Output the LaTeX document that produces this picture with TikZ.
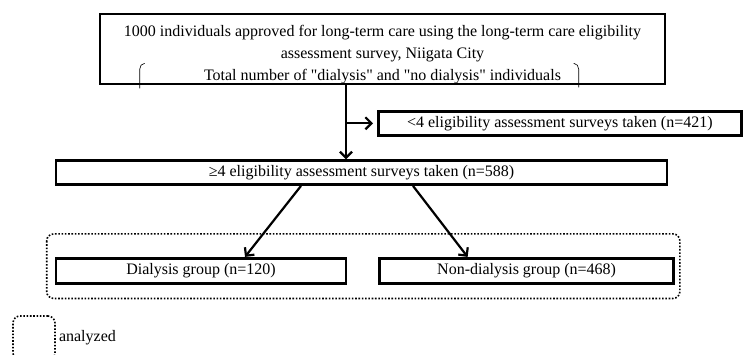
\documentclass[tikz,border=0pt]{standalone}
\usepackage{fontspec}
\setmainfont{Liberation Serif}
\usetikzlibrary{positioning, arrows.meta, calc}

\begin{document}
\begin{tikzpicture}[x=1pt, y=1pt, node distance={10pt}, font=\fontsize{16}{22}\selectfont]
                \tikzstyle{box} = [rectangle, draw, line width=2.6pt, inner sep=0pt, align=center]
                \tikzstyle{arrow} = [line width=2.2pt, -{Straight Barb[length=6pt, width=12pt]}]
                \tikzstyle{brace} = [line width=0.6pt]
                \tikzstyle{analysed} = [line width=1.6pt, dash pattern=on 1.6pt off 1.7pt, rounded corners=7pt]

                \useasboundingbox (0,0) rectangle (746,-355);

                % Population box (top)
                \node[box, minimum width=565pt, minimum height=70pt] (pop) at (382.5,-49) {};
                \node[inner sep=0pt, align=center] (poptext) at ([yshift=-6pt]pop.center)
                    {1000 individuals approved for long-term care using the long-term care eligibility\\
                     assessment survey, Niigata City\\
                     Total number of \textquotedbl dialysis\textquotedbl{} and \textquotedbl no dialysis\textquotedbl{} individuals};
                \draw[brace] ($(pop.south west)+(46,22)$) to[out=180, in=90] ++(-5,-6) -- ++(0,-19);
                \draw[brace] ($(pop.south west)+(475,22)$) to[out=0, in=90] ++(5,-6) -- ++(0,-18);

                % Surveys taken
                \node[box, minimum width=611pt, minimum height=24pt] (ge4) [below=74pt of pop, xshift=-21pt]
                    {≥4 eligibility assessment surveys taken (n=588)};
                \coordinate (fork) at ($(pop.south)+(-36.5,-38)$);
                \node[box, minimum width=363pt, minimum height=24pt] (lt4) [right=31pt of fork]
                    {<4 eligibility assessment surveys taken (n=421)};

                % Groups
                \node[box, minimum width=290pt, minimum height=25pt] (dial) [below=71pt of ge4.south west, anchor=north west]
                    {Dialysis group (n=120)};
                \node[box, minimum width=294pt, minimum height=25pt] (nondial) [right=31pt of dial]
                    {Non-dialysis group (n=468)};
                \draw[analysed] ($(dial.north west)+(-8,23)$) rectangle ($(nondial.south east)+(5,-14)$);

                % Legend
                \node[analysed, draw, minimum width=42pt, minimum height=44pt] (key) at (34,-338) {};
                \node[inner sep=0pt] (keytext) [right=3pt of key] {analyzed};

                \draw[arrow] ([xshift=-36.5pt]pop.south) -- ([xshift=-15.5pt]ge4.north);
                \draw[arrow, shorten >=4pt] (fork) -- (lt4);
                \draw[arrow] ([xshift=-60.5pt]ge4.south) -- ([xshift=44pt]dial.north);
                \draw[arrow] ([xshift=51.5pt]ge4.south) -- ([xshift=-59pt]nondial.north);
\end{tikzpicture}
\end{document}
